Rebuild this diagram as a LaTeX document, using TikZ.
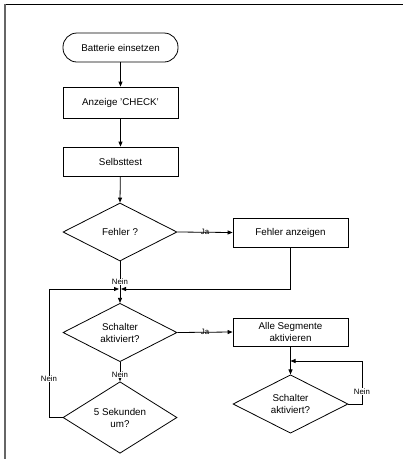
\documentclass[tikz,border=0pt]{standalone}
\usepackage{fontspec}
\setmainfont{Liberation Sans}
\usetikzlibrary{shapes.geometric,arrows.meta}
\begin{document}
\begin{tikzpicture}[x=1pt,y=-1pt,
  every node/.style={font=\fontsize{9.8}{12}\selectfont, align=center},
  flow/.style={draw=black, line width=0.8pt},
  stepbox/.style={flow, rectangle, minimum width=115pt, inner sep=0pt},
  terminal/.style={stepbox, rounded corners=14pt, minimum height=29pt},
  decision/.style={flow, diamond, inner sep=0pt},
  conn/.style={draw=black, line width=0.8pt},
  arr/.style={conn, -{Triangle[length=5pt,width=4pt]}},
  lbl/.style={font=\fontsize{7.8}{9}\selectfont, fill=white, inner sep=0.5pt}
]
\useasboundingbox (0,0) rectangle (403,459);
\fill[white] (0,0) rectangle (403,459);
% page frame
\draw[line width=0.8pt] (5,4) -- (403,4);
\draw[gray!80!black, line width=1.6pt] (5,4) -- (5,459);

% main column
\node[terminal] (start) at (120.5,47.5) {Batterie einsetzen};
\node[stepbox, minimum height=31pt] (check) at (120.5,102.5) {Anzeige 'CHECK'};
\node[stepbox, minimum height=29pt] (selbst) at (120.5,161.5) {Selbsttest};
\node[decision, minimum width=114pt, minimum height=58pt] (fehler) at (120,232) {Fehler ?};
\node[stepbox, minimum height=29pt] (anz) at (290.5,232.5) {Fehler anzeigen};
\coordinate (m) at (120,289);
\node[decision, minimum width=114pt, minimum height=57pt] (sch1) at (120,332.5) {Schalter\\aktiviert?};
\node[stepbox, minimum height=28pt] (alle) at (290.5,332) {Alle Segmente\\aktivieren};
\node[decision, minimum width=114pt, minimum height=59pt] (sek) at (120,417.5) {5 Sekunden\\um?};
\node[decision, minimum width=115pt, minimum height=56pt] (sch2) at (290.5,404) {Schalter\\aktiviert?};

% helper points for the loops
\coordinate (anzdown) at (anz.south |- m);
\coordinate (lefttop) at (49,289);
\coordinate (leftbot) at (49,417.5);
\coordinate (rbot) at (362,404);
\coordinate (rtop) at (362,361);
\coordinate (rin) at (290.5,361);

% connectors
\draw[arr] (start) -- (check);
\draw[arr] (check) -- (selbst);
\draw[arr] (selbst) -- (fehler.north);
\draw[arr] (fehler.east) -- node[lbl, pos=0.5, fill=none] {Ja} (anz.west);
\draw[conn] (fehler.south) -- (m);
\node[lbl] (n1) at (120,282) {Nein};
\draw[arr] (anz.south) -- (anzdown) -- ([xshift=1pt]m);
\draw[arr] (sek.west) -- (leftbot) -- (lefttop) -- ([xshift=-1pt]m);
\node[lbl] (n2) at (49,379) {Nein};
\draw[arr] (m) -- (sch1.north);
\draw[arr] (sch1.east) -- node[lbl, pos=0.5, fill=none] {Ja} (alle.west);
\draw[arr] (sch1.south) -- (sek.north);
\node[lbl] (n3) at (120,375) {Nein};
\draw[arr] (alle.south) -- (sch2.north);
\draw[arr] (sch2.east) -- (rbot) -- (rtop) -- (rin);
\node[lbl] (n4) at (362,391.5) {Nein};
\end{tikzpicture}
\end{document}
